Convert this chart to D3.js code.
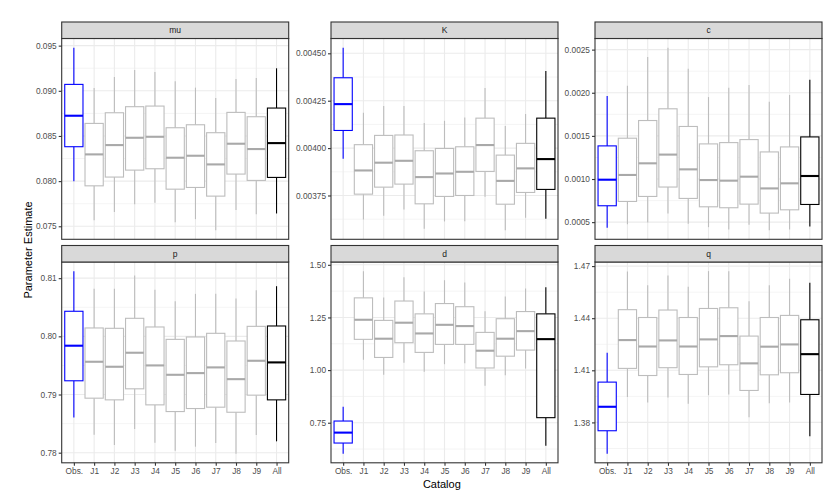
<!DOCTYPE html>
<html>
<head>
<meta charset="utf-8">
<script src="https://cdn.jsdelivr.net/npm/d3@7"></script>
<style>
  body { margin: 0; background: #fff; }
  text { font-family: "Liberation Sans", Arial, sans-serif; }
</style>
</head>
<body>
<svg id="chart"></svg>
<script>
// catalogs along the x axis
const catalogs = ["Obs.", "J1", "J2", "J3", "J4", "J5", "J6", "J7", "J8", "J9", "All"]
const params = ["mu", "K", "c", "p", "d", "q"]

// box stats per catalog: [lower whisker, q1, median, q3, upper whisker]
const muStats = [
  [0.0800, 0.08381, 0.08724, 0.09071, 0.09478],
  [0.07568, 0.07948, 0.08296, 0.08639, 0.09031],
  [0.07657, 0.08045, 0.08399, 0.08757, 0.09153],
  [0.07745, 0.08122, 0.0848, 0.08824, 0.0923],
  [0.0776, 0.08137, 0.08491, 0.08831, 0.09208],
  [0.07546, 0.07911, 0.08259, 0.08591, 0.09105],
  [0.07579, 0.0793, 0.08281, 0.08624, 0.09035],
  [0.07457, 0.07834, 0.08185, 0.08536, 0.0892],
  [0.07679, 0.08078, 0.08414, 0.08761, 0.09131],
  [0.07634, 0.08008, 0.08355, 0.08713, 0.09142],
  [0.07642, 0.08041, 0.08421, 0.08809, 0.09249]
]
const kStats = [
  [0.003944, 0.004093, 0.004232, 0.004371, 0.00453],
  [0.003623, 0.003757, 0.003882, 0.004018, 0.004187],
  [0.003643, 0.003794, 0.003923, 0.004067, 0.004222],
  [0.003676, 0.00381, 0.003933, 0.004069, 0.004222],
  [0.003574, 0.003706, 0.003847, 0.003986, 0.004132],
  [0.003613, 0.003745, 0.003866, 0.003998, 0.004144],
  [0.003614, 0.00375, 0.003875, 0.004007, 0.004162],
  [0.003743, 0.003877, 0.004016, 0.004158, 0.004317],
  [0.003567, 0.003704, 0.003827, 0.003963, 0.004116],
  [0.003632, 0.003766, 0.003893, 0.004025, 0.00418],
  [0.003627, 0.003782, 0.003942, 0.004158, 0.004407]
]
const cStats = [
  [0.000434, 0.00069, 0.000992, 0.001384, 0.001961],
  [0.000477, 0.00074, 0.001047, 0.001473, 0.002081],
  [0.000496, 0.000798, 0.001182, 0.001678, 0.002415],
  [0.000601, 0.000907, 0.001283, 0.001814, 0.002523],
  [0.000481, 0.000775, 0.001112, 0.001609, 0.002279],
  [0.000442, 0.000678, 0.000988, 0.001407, 0.00195],
  [0.000415, 0.000667, 0.000981, 0.001422, 0.002058],
  [0.000469, 0.000709, 0.001027, 0.001457, 0.002089],
  [0.000407, 0.000605, 0.000891, 0.001314, 0.001895],
  [0.000415, 0.000643, 0.00095, 0.001372, 0.001973],
  [0.00045, 0.000705, 0.001035, 0.001488, 0.002151]
]
const pStats = [
  [0.78603, 0.79236, 0.79839, 0.80431, 0.81121],
  [0.7831, 0.78937, 0.79563, 0.80144, 0.80816],
  [0.78132, 0.78908, 0.79477, 0.80138, 0.80816],
  [0.78408, 0.79098, 0.79718, 0.8031, 0.81046],
  [0.78172, 0.78822, 0.795, 0.80161, 0.80799],
  [0.78034, 0.78707, 0.79339, 0.79948, 0.80603],
  [0.78103, 0.78759, 0.79368, 0.79989, 0.8073],
  [0.78167, 0.78782, 0.79466, 0.80052, 0.8073],
  [0.77983, 0.78695, 0.79264, 0.7992, 0.80649],
  [0.78305, 0.78989, 0.7958, 0.80172, 0.80793],
  [0.78195, 0.78908, 0.79552, 0.80178, 0.80862]
]
const dStats = [
  [0.603, 0.6535, 0.703, 0.758, 0.826],
  [1.049, 1.146, 1.239, 1.343, 1.47],
  [0.978, 1.06, 1.149, 1.236, 1.345],
  [1.035, 1.13, 1.225, 1.328, 1.441],
  [0.992, 1.084, 1.174, 1.267, 1.373],
  [1.028, 1.122, 1.215, 1.316, 1.427],
  [1.032, 1.122, 1.209, 1.301, 1.416],
  [0.926, 1.01, 1.092, 1.179, 1.28],
  [0.975, 1.066, 1.149, 1.244, 1.35],
  [1.008, 1.095, 1.185, 1.278, 1.388],
  [0.641, 0.774, 1.147, 1.267, 1.394]
]
const qStats = [
  [1.362, 1.3752, 1.389, 1.4032, 1.4201],
  [1.3946, 1.4111, 1.4274, 1.4449, 1.4669],
  [1.3915, 1.407, 1.4237, 1.4404, 1.4589],
  [1.3944, 1.4115, 1.4272, 1.4447, 1.4646],
  [1.3907, 1.4076, 1.4237, 1.4404, 1.4581],
  [1.3957, 1.412, 1.4278, 1.4456, 1.4671],
  [1.3961, 1.4132, 1.4297, 1.446, 1.4671],
  [1.383, 1.3984, 1.414, 1.4297, 1.4497],
  [1.3911, 1.4074, 1.4236, 1.4404, 1.4589],
  [1.3915, 1.4086, 1.4249, 1.4416, 1.4627],
  [1.3721, 1.3961, 1.4193, 1.4391, 1.4604]
]

// y tick labels per panel
const muTicks = ["0.075", "0.080", "0.085", "0.090", "0.095"]
const kTicks = ["0.00375", "0.00400", "0.00425", "0.00450"]
const cTicks = ["0.0005", "0.0010", "0.0015", "0.0020", "0.0025"]
const pTicks = ["0.78", "0.79", "0.80", "0.81"]
const dTicks = ["0.75", "1.00", "1.25", "1.50"]
const qTicks = ["1.38", "1.41", "1.44", "1.47"]

const allStats = [muStats, kStats, cStats, pStats, dStats, qStats]
const allTicks = [muTicks, kTicks, cTicks, pTicks, dTicks, qTicks]

const width = 831, height = 497
const colX = [61.7, 331, 595]
const rowY = [22, 245.5]
const panelW = 227, stripH = 16.5, panelH = 200.8

const svg = d3.select("#chart")
  .attr("width", width)
  .attr("height", height)

function boxColor(i) {
  if (i === 0) return "#0000ff"
  if (i === catalogs.length - 1) return "#000000"
  return "#bdbdbd"
}

params.forEach(function(name, k) {
  const stats = allStats[k]
  const ticks = allTicks[k].map(Number)
  const col = k % 3, row = Math.floor(k / 3)
  const x0 = colX[col], top = rowY[row] + stripH

  const lo = d3.min(stats, d => d[0]), hi = d3.max(stats, d => d[4])
  const pad = (hi - lo) * 0.05
  const y = d3.scaleLinear().domain([lo - pad, hi + pad]).range([panelH, 0])
  const x = d3.scalePoint().domain(catalogs).range([0, panelW]).padding(0.6)
  const step = x.step()

  const g = svg.append("g").attr("transform", `translate(${x0},${top})`)

  // minor grid, halfway between major ticks
  const half = (ticks[1] - ticks[0]) / 2
  const minor = []
  for (let v = ticks[0] - half; v <= ticks[ticks.length - 1] + half + 1e-12; v += half * 2) {
    if (v >= y.domain()[0] && v <= y.domain()[1]) minor.push(v)
  }
  g.selectAll(".minor").data(minor).enter().append("line")
    .attr("x1", 0).attr("x2", panelW)
    .attr("y1", d => y(d)).attr("y2", d => y(d))
    .attr("stroke", "#ebebeb").attr("stroke-width", 0.55)

  g.selectAll(".major").data(ticks).enter().append("line")
    .attr("x1", 0).attr("x2", panelW)
    .attr("y1", d => y(d)).attr("y2", d => y(d))
    .attr("stroke", "#ebebeb").attr("stroke-width", 1.1)

  g.selectAll(".vgrid").data(catalogs).enter().append("line")
    .attr("x1", d => x(d)).attr("x2", d => x(d))
    .attr("y1", 0).attr("y2", panelH)
    .attr("stroke", "#ebebeb").attr("stroke-width", 1.1)

  // boxes
  const bw = step * 0.9
  const box = g.selectAll(".box").data(stats).enter().append("g")
    .attr("transform", (d, i) => `translate(${x(catalogs[i])},0)`)

  box.append("line")
    .attr("y1", d => y(d[0])).attr("y2", d => y(d[1]))
    .attr("stroke", (d, i) => boxColor(i)).attr("stroke-width", 1.1)
  box.append("line")
    .attr("y1", d => y(d[3])).attr("y2", d => y(d[4]))
    .attr("stroke", (d, i) => boxColor(i)).attr("stroke-width", 1.1)
  box.append("rect")
    .attr("x", -bw / 2).attr("width", bw)
    .attr("y", d => y(d[3])).attr("height", d => y(d[1]) - y(d[3]))
    .attr("fill", "#fff")
    .attr("stroke", (d, i) => boxColor(i)).attr("stroke-width", 1.1)
  box.append("line")
    .attr("x1", -bw / 2).attr("x2", bw / 2)
    .attr("y1", d => y(d[2])).attr("y2", d => y(d[2]))
    .attr("stroke", (d, i) => i === 0 || i === catalogs.length - 1 ? boxColor(i) : "#a9a9a9")
    .attr("stroke-width", 2.1)

  // panel border
  g.append("rect")
    .attr("width", panelW).attr("height", panelH)
    .attr("fill", "none").attr("stroke", "#333").attr("stroke-width", 1.1)

  // strip
  svg.append("rect")
    .attr("x", x0).attr("y", rowY[row])
    .attr("width", panelW).attr("height", stripH)
    .attr("fill", "#d9d9d9").attr("stroke", "#333").attr("stroke-width", 1.1)
  svg.append("text")
    .attr("x", x0 + panelW / 2).attr("y", rowY[row] + stripH / 2 + 3)
    .attr("text-anchor", "middle")
    .attr("font-size", 8.5).attr("fill", "#1a1a1a")
    .text(name)

  // y axis
  const yAxis = g.append("g")
    .call(d3.axisLeft(y).tickValues(ticks).tickSize(3).tickPadding(2)
      .tickFormat((d, i) => allTicks[k][i]))
  yAxis.select(".domain").remove()
  yAxis.selectAll("line").attr("stroke", "#333").attr("stroke-width", 1.1)
  yAxis.selectAll("text").attr("fill", "#4d4d4d").attr("font-size", 8.3)
    .attr("font-family", "Liberation Sans, Arial, sans-serif")

  // x axis only on the bottom row
  if (row === 1) {
    const xAxis = g.append("g").attr("transform", `translate(0,${panelH})`)
      .call(d3.axisBottom(x).tickSize(3).tickPadding(2))
    xAxis.select(".domain").remove()
    xAxis.selectAll("line").attr("stroke", "#333").attr("stroke-width", 1.1)
    xAxis.selectAll("text").attr("fill", "#4d4d4d").attr("font-size", 8.3)
      .attr("font-family", "Liberation Sans, Arial, sans-serif")
  }
})

svg.append("text")
  .attr("x", (colX[0] + colX[2] + panelW) / 2).attr("y", 488)
  .attr("text-anchor", "middle").attr("font-size", 11).attr("fill", "#000")
  .text("Catalog")

svg.append("text")
  .attr("transform", "translate(32,250) rotate(-90)")
  .attr("text-anchor", "middle").attr("font-size", 11).attr("fill", "#000")
  .text("Parameter Estimate")
</script>
</body>
</html>
